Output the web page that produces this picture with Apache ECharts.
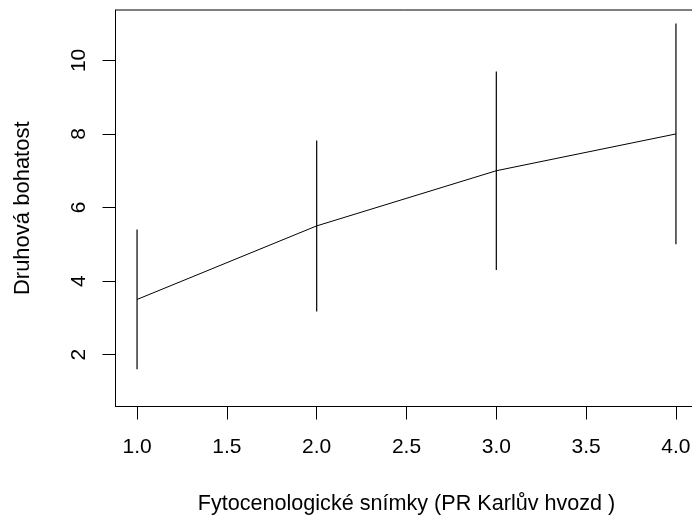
<!DOCTYPE html>
<html>
<head>
<meta charset="utf-8">
<script src="https://cdn.jsdelivr.net/npm/echarts@6/dist/echarts.min.js"></script>
<style>html,body{margin:0;padding:0;background:#fff}#c{width:692px;height:520px}</style>
</head>
<body>
<div id="c"></div>
<script>
var xs = [1, 2, 3, 4];
var means = [3.5, 5.5, 7.0, 8.0];
var lower = [1.6, 3.17, 4.3, 5.0];
var upper = [5.4, 7.82, 9.7, 11.0];
var xTicks = [1.0, 1.5, 2.0, 2.5, 3.0, 3.5, 4.0];
var yTicks = [2, 4, 6, 8, 10];
var xTitle = 'Fytocenologické snímky (PR Karlův hvozd )';
var yTitle = 'Druhová bohatost';

var font = "'Liberation Sans', Arial, sans-serif";
var chart = echarts.init(document.getElementById('c'), null, {renderer: 'canvas'});
chart.setOption({
  animation: false,
  backgroundColor: '#fff',
  grid: {
    left: 115.5, top: 10, width: 582, height: 396.5,
    show: true, borderColor: '#000', borderWidth: 1, backgroundColor: 'transparent',
    containLabel: false, outerBoundsMode: 'none'
  },
  xAxis: {
    type: 'value', min: 0.88, max: 4.12,
    name: xTitle, nameLocation: 'middle', nameGap: 87,
    nameTextStyle: {fontFamily: font, fontSize: 21.6, color: '#000'},
    axisLine: {show: true, onZero: false, lineStyle: {color: '#000', width: 1}},
    axisTick: {show: true, length: 13, inside: false, customValues: xTicks, lineStyle: {color: '#000', width: 1}},
    axisLabel: {show: true, customValues: xTicks, margin: 30, fontFamily: font, fontSize: 21, color: '#000',
      formatter: function (v) { return Number(v).toFixed(1); }},
    splitLine: {show: false}
  },
  yAxis: {
    type: 'value', min: 0.59, max: 11.37,
    name: yTitle, nameLocation: 'middle', nameGap: 82, nameRotate: 90,
    nameTextStyle: {fontFamily: font, fontSize: 22, color: '#000'},
    axisLine: {show: true, onZero: false, lineStyle: {color: '#000', width: 1}},
    axisTick: {show: true, length: 13, inside: false, customValues: yTicks, lineStyle: {color: '#000', width: 1}},
    axisLabel: {show: true, customValues: yTicks, rotate: 90, margin: 26, fontFamily: font, fontSize: 21, color: '#000'},
    splitLine: {show: false}
  },
  series: [
    {
      type: 'line',
      data: xs.map(function (x, i) { return [x, means[i]]; }),
      symbol: 'none',
      lineStyle: {color: '#000', width: 1},
      silent: true
    },
    {
      type: 'custom',
      data: xs.map(function (x, i) { return [x, lower[i], upper[i]]; }),
      renderItem: function (params, api) {
        var p1 = api.coord([api.value(0), api.value(1)]);
        var p2 = api.coord([api.value(0), api.value(2)]);
        return {
          type: 'line',
          shape: {x1: p1[0], y1: p1[1], x2: p2[0], y2: p2[1]},
          style: {stroke: '#000', lineWidth: 1.2}
        };
      },
      silent: true
    }
  ]
});
</script>
</body>
</html>
